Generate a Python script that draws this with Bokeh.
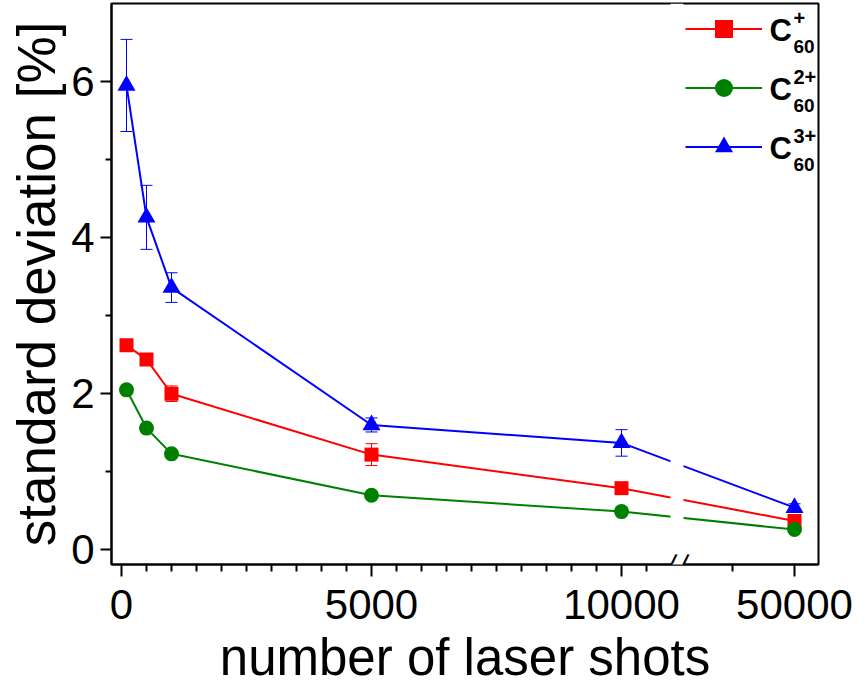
from bokeh.plotting import figure
from bokeh.models import (Range1d, FixedTicker, Whisker, TeeHead, Legend, LegendItem,
                          Label, ColumnDataSource)
from bokeh.embed import file_html
from bokeh.resources import INLINE

# ---------------- data ----------------
shots = [100, 500, 1000, 5000, 10000, 50000]

c60_1 = [2.62, 2.44, 2.00, 1.22, 0.79, 0.37]
c60_1_err = [0.04, 0.04, 0.10, 0.14, 0.04, 0.04]

c60_2 = [2.05, 1.56, 1.23, 0.70, 0.49, 0.26]
c60_2_err = [0.03, 0.03, 0.03, 0.03, 0.03, 0.03]

c60_3 = [5.95, 4.26, 3.36, 1.60, 1.37, 0.54]
c60_3_err = [0.59, 0.41, 0.19, 0.09, 0.17, 0.05]

x_major = [0, 5000, 10000, 50000]
x_minor = [500, 1000, 1500, 2000, 2500, 3000, 3500, 4000, 4500,
           5500, 6000, 6500, 7000, 7500, 8000, 8500, 9000, 9500, 10500, 45000]
y_major = [0, 2, 4, 6]
y_minor = [1, 3, 5]

# ---------------- broken x axis ----------------
BREAK_AT = 11000          # values up to this are drawn on a linear scale
SEG2_REF = 50000          # reference value of the second segment
SEG2_POS = 13460          # its position on the plotting axis
SEG2_SCALE = 0.248        # compression of the second segment
BREAK_LO, BREAK_HI = 11000, 11240

Y0, Y1 = -0.188, 7.0


def bx(v):
    if v <= BREAK_AT:
        return v
    return int(round(SEG2_POS + (v - SEG2_REF) * SEG2_SCALE))


XS = [bx(v) for v in shots]

FONT = "Liberation Sans"

p = figure(width=860, height=689,
           x_range=Range1d(-200, 13940), y_range=Range1d(Y0, Y1),
           output_backend="svg", toolbar_location=None,
           min_border_left=111, min_border_right=42,
           min_border_top=3, min_border_bottom=125)
p.grid.visible = False
p.outline_line_color = "black"
p.outline_line_width = 2
p.background_fill_color = "white"
p.border_fill_color = "white"

# axes
p.xaxis.ticker = FixedTicker(ticks=[bx(v) for v in x_major],
                             minor_ticks=[bx(v) for v in x_minor])
p.xaxis.major_label_overrides = {bx(v): str(v) for v in x_major}
p.yaxis.ticker = FixedTicker(ticks=y_major, minor_ticks=y_minor)

for ax in (p.xaxis[0], p.yaxis[0]):
    ax.axis_line_width = 2
    ax.major_tick_line_width = 2
    ax.minor_tick_line_width = 2
    ax.major_tick_in = 0
    ax.minor_tick_in = 0
    ax.major_label_text_font = FONT
    ax.major_label_text_font_size = "42px"
    ax.major_label_text_color = "black"
    ax.axis_label_text_font = FONT
    ax.axis_label_text_font_style = "normal"
    ax.axis_label_text_color = "black"

p.xaxis.axis_label_text_font_size = "51px"
p.yaxis.axis_label_text_font_size = "53px"
p.xaxis.major_tick_out = 12
p.xaxis.minor_tick_out = 7
p.yaxis.major_tick_out = 11
p.yaxis.minor_tick_out = 6
p.xaxis.major_label_standoff = 13
p.yaxis.major_label_standoff = 6
p.xaxis.axis_label_standoff = 7
p.yaxis.axis_label_standoff = 2
p.xaxis.axis_label = "number of laser shots"
p.yaxis.axis_label = "standard deviation [%]"

series = [
    ("C60_1", c60_1, c60_1_err, "#ff0000", "square", 14),
    ("C60_2", c60_2, c60_2_err, "#008000", "circle", 15),
    ("C60_3", c60_3, c60_3_err, "#0000ff", "triangle", 18),
]

sources = {}
lines = {}
for name, ys, err, col, mk, sz in series:
    src = ColumnDataSource(dict(x=XS, y=ys,
                                upper=[a + b for a, b in zip(ys, err)],
                                lower=[a - b for a, b in zip(ys, err)]))
    sources[name] = src
    lines[name] = p.line("x", "y", source=src, line_color=col, line_width=2)

# gap in the data lines at the axis break
p.quad(left=[BREAK_LO - 20], right=[BREAK_HI], bottom=[Y0], top=[Y1],
       fill_color="white", line_color=None)

marks = {}
for name, ys, err, col, mk, sz in series:
    src = sources[name]
    p.add_layout(Whisker(base="x", upper="upper", lower="lower", source=src,
                         dimension="height", line_color=col, line_width=1,
                         upper_head=TeeHead(size=12, line_color=col, line_width=1),
                         lower_head=TeeHead(size=12, line_color=col, line_width=1)))
    marks[name] = p.scatter("x", "y", source=src, marker=mk, size=sz,
                            fill_color=col, line_color=col, line_width=0)

# axis break marks "//" (white gap in the axis line, then two slashes)
p.add_layout(Label(x=(BREAK_LO + BREAK_HI) / 2, y=Y0, text=" ",
                   text_font=FONT, text_font_size="20px",
                   text_align="center", text_baseline="middle",
                   background_fill_color="white", padding=3))
for xc in (BREAK_LO, BREAK_HI):
    p.add_layout(Label(x=xc, y=Y0, text="/", text_font=FONT,
                       text_font_size="28px", text_color="black",
                       text_align="center", text_baseline="middle",
                       angle=-0.19))

# legend (glyphs) + chemical labels as text
legend = Legend(items=[LegendItem(label=" ", renderers=[lines[n], marks[n]])
                       for n in ("C60_1", "C60_2", "C60_3")],
                location=(574, 395), orientation="vertical",
                glyph_width=77, glyph_height=45, label_height=45,
                spacing=14, padding=0, margin=0, label_standoff=2,
                label_text_font_size="8px",
                background_fill_alpha=0, border_line_color=None)
p.add_layout(legend)

sup = ["+", "2+", "3+"]
line_y = [536, 477, 418]   # frame-relative y of the legend rows
for s, ly in zip(sup, line_y):
    p.add_layout(Label(x=658, y=ly - 2, x_units="screen", y_units="screen",
                       text="C", text_font=FONT, text_font_style="bold",
                       text_color="black",
                       text_font_size="31px", text_baseline="alphabetic"))
    p.add_layout(Label(x=682, y=ly + 11, x_units="screen", y_units="screen",
                       text=s, text_font=FONT, text_font_style="bold",
                       text_color="black",
                       text_font_size="20px", text_baseline="alphabetic"))
    p.add_layout(Label(x=682, y=ly - 18, x_units="screen", y_units="screen",
                       text="60", text_font=FONT, text_font_style="bold",
                       text_color="black",
                       text_font_size="19px", text_baseline="alphabetic"))

open("out.html", "w").write(file_html(p, INLINE))
